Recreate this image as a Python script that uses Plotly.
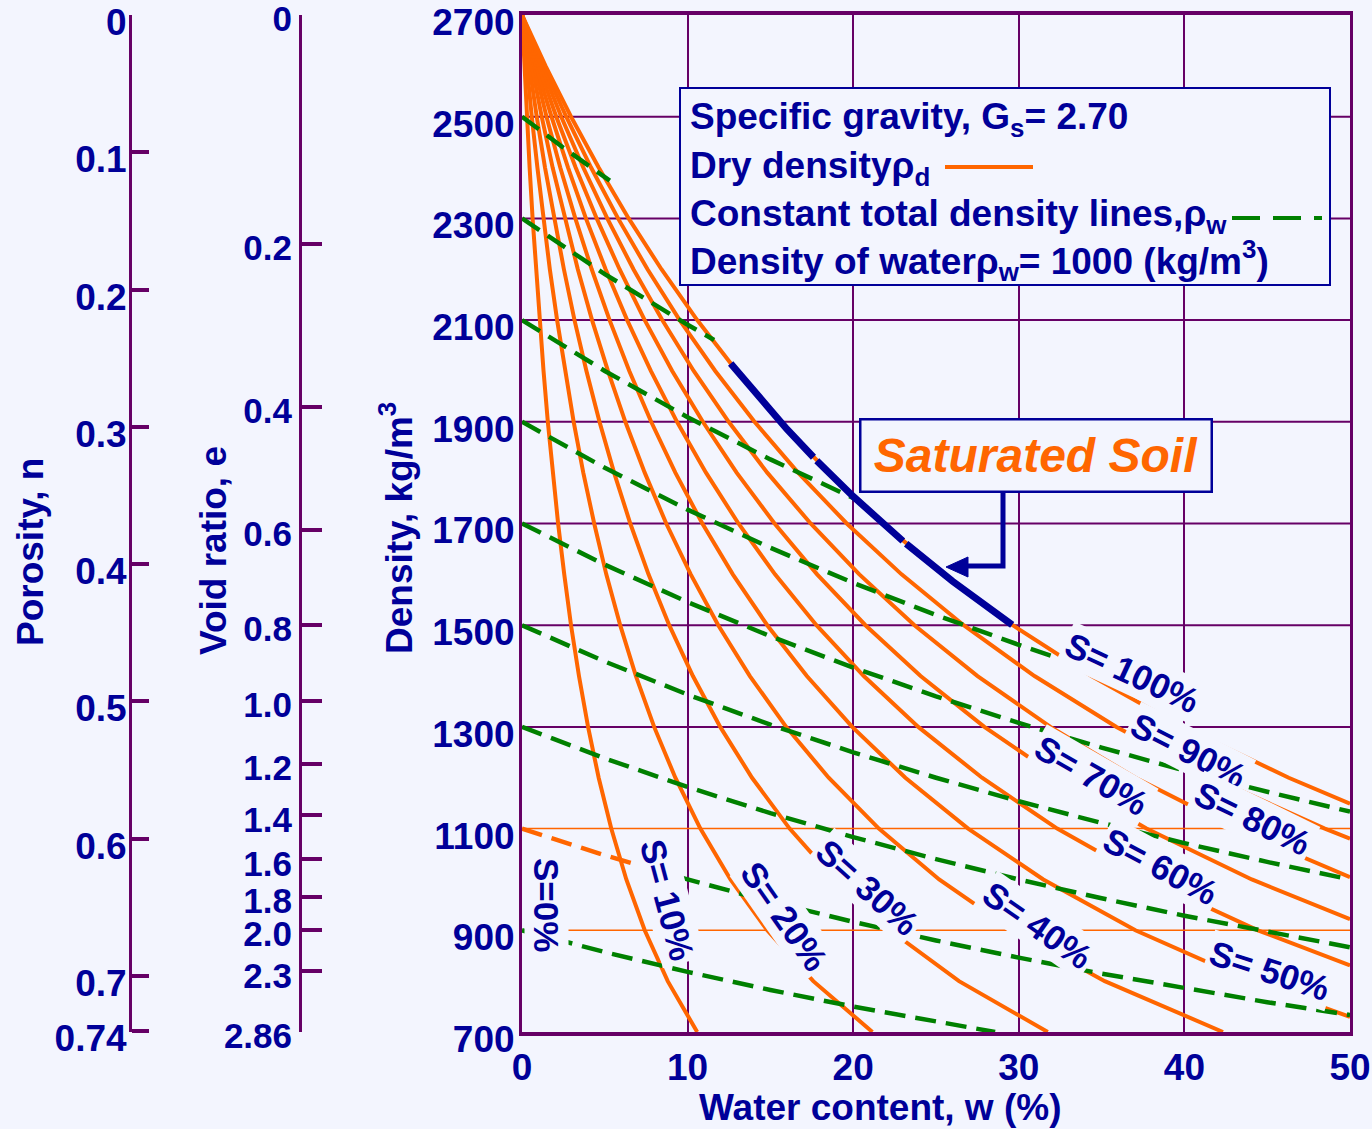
import plotly.graph_objects as go

# ---------------- DATA ----------------
x_ticks = [0, 10, 20, 30, 40, 50]
density_ticks = [700, 900, 1100, 1300, 1500, 1700, 1900, 2100, 2300, 2500, 2700]
porosity_ticks = [0, 0.1, 0.2, 0.3, 0.4, 0.5, 0.6, 0.7, 0.74]
porosity_text = ["0", "0.1", "0.2", "0.3", "0.4", "0.5", "0.6", "0.7", "0.74"]
void_ticks = [0, 0.2, 0.4, 0.6, 0.8, 1.0, 1.2, 1.4, 1.6, 1.8, 2.0, 2.3, 2.86]
void_text = ["0", "0.2", "0.4", "0.6", "0.8", "1.0", "1.2", "1.4", "1.6", "1.8", "2.0", "2.3", "2.86"]
specific_gravity = 2.70
water_density = 1000

# Dry-density curves for degree of saturation S: water content (%) vs dry density (kg/m3)
w_s10 = [0, 0.14, 0.30, 0.46, 0.64, 0.84, 1.06, 1.30, 1.56, 1.85, 2.18, 2.55, 2.96, 3.44, 3.99, 4.63, 5.39, 6.30, 7.41, 8.80, 10.58]
rho_s10 = [2700, 2600, 2500, 2400, 2300, 2200, 2100, 2000, 1900, 1800, 1700, 1600, 1500, 1400, 1300, 1200, 1100, 1000, 900, 800, 700]
w_s20 = [0, 0.28, 0.59, 0.93, 1.29, 1.68, 2.12, 2.59, 3.12, 3.70, 4.36, 5.09, 5.93, 6.88, 7.98, 9.26, 10.77, 12.59, 14.81, 17.59, 21.16]
rho_s20 = [2700, 2600, 2500, 2400, 2300, 2200, 2100, 2000, 1900, 1800, 1700, 1600, 1500, 1400, 1300, 1200, 1100, 1000, 900, 800, 700]
w_s30 = [0, 0.43, 0.89, 1.39, 1.93, 2.53, 3.17, 3.89, 4.68, 5.56, 6.54, 7.64, 8.89, 10.32, 11.97, 13.89, 16.16, 18.89, 22.22, 26.39, 31.75]
rho_s30 = [2700, 2600, 2500, 2400, 2300, 2200, 2100, 2000, 1900, 1800, 1700, 1600, 1500, 1400, 1300, 1200, 1100, 1000, 900, 800, 700]
w_s40 = [0, 0.57, 1.19, 1.85, 2.58, 3.37, 4.23, 5.19, 6.24, 7.41, 8.71, 10.19, 11.85, 13.76, 15.95, 18.52, 21.55, 25.19, 29.63, 35.19, 42.33]
rho_s40 = [2700, 2600, 2500, 2400, 2300, 2200, 2100, 2000, 1900, 1800, 1700, 1600, 1500, 1400, 1300, 1200, 1100, 1000, 900, 800, 700]
w_s50 = [0, 0.71, 1.48, 2.31, 3.22, 4.21, 5.29, 6.48, 7.80, 9.26, 10.89, 12.73, 14.81, 17.20, 19.94, 23.15, 26.94, 31.48, 37.04, 43.98, 50]
rho_s50 = [2700, 2600, 2500, 2400, 2300, 2200, 2100, 2000, 1900, 1800, 1700, 1600, 1500, 1400, 1300, 1200, 1100, 1000, 900, 800, 729.7]
w_s60 = [0, 0.85, 1.78, 2.78, 3.86, 5.05, 6.35, 7.78, 9.36, 11.11, 13.07, 15.28, 17.78, 20.64, 23.93, 27.78, 32.32, 37.78, 44.44, 50]
rho_s60 = [2700, 2600, 2500, 2400, 2300, 2200, 2100, 2000, 1900, 1800, 1700, 1600, 1500, 1400, 1300, 1200, 1100, 1000, 900, 830.8]
w_s70 = [0, 1.00, 2.07, 3.24, 4.51, 5.89, 7.41, 9.07, 10.92, 12.96, 15.25, 17.82, 20.74, 24.07, 27.92, 32.41, 37.71, 44.07, 50]
rho_s70 = [2700, 2600, 2500, 2400, 2300, 2200, 2100, 2000, 1900, 1800, 1700, 1600, 1500, 1400, 1300, 1200, 1100, 1000, 921.9]
w_s80 = [0, 1.14, 2.37, 3.70, 5.15, 6.73, 8.47, 10.37, 12.48, 14.81, 17.43, 20.37, 23.70, 27.51, 31.91, 37.04, 43.10, 50]
rho_s80 = [2700, 2600, 2500, 2400, 2300, 2200, 2100, 2000, 1900, 1800, 1700, 1600, 1500, 1400, 1300, 1200, 1100, 1004.7]
w_s90 = [0, 1.28, 2.67, 4.17, 5.80, 7.58, 9.52, 11.67, 14.04, 16.67, 19.61, 22.92, 26.67, 30.95, 35.90, 41.67, 48.48, 50]
rho_s90 = [2700, 2600, 2500, 2400, 2300, 2200, 2100, 2000, 1900, 1800, 1700, 1600, 1500, 1400, 1300, 1200, 1100, 1080.0]
w_s100 = [0, 1.42, 2.96, 4.63, 6.44, 8.42, 10.58, 12.96, 15.60, 18.52, 21.79, 25.46, 29.63, 34.39, 39.89, 46.30, 50]
rho_s100 = [2700, 2600, 2500, 2400, 2300, 2200, 2100, 2000, 1900, 1800, 1700, 1600, 1500, 1400, 1300, 1200, 1148.9]

# Constant total density lines: water content (%) vs dry density (kg/m3)
w_t2500 = [0, 2.5, 5.3]
rho_t2500 = [2500, 2439.0, 2374.2]
w_t2300 = [0, 5, 10, 11.6]
rho_t2300 = [2300, 2190.5, 2090.9, 2060.9]
w_t2100 = [0, 5, 10, 15, 20.2]
rho_t2100 = [2100, 2000.0, 1909.1, 1826.1, 1747.1]
w_t1900 = [0, 5, 10, 15, 20, 25, 30, 32.9]
rho_t1900 = [1900, 1809.5, 1727.3, 1652.2, 1583.3, 1520.0, 1461.5, 1429.6]
w_t1700 = [0, 5, 10, 15, 20, 25, 30, 35, 40, 45, 50]
rho_t1700 = [1700, 1619.0, 1545.5, 1478.3, 1416.7, 1360.0, 1307.7, 1259.3, 1214.3, 1172.4, 1133.3]
w_t1500 = [0, 5, 10, 15, 20, 25, 30, 35, 40, 45, 50]
rho_t1500 = [1500, 1428.6, 1363.6, 1304.3, 1250.0, 1200.0, 1153.8, 1111.1, 1071.4, 1034.5, 1000.0]
w_t1300 = [0, 5, 10, 15, 20, 25, 30, 35, 40, 45, 50]
rho_t1300 = [1300, 1238.1, 1181.8, 1130.4, 1083.3, 1040.0, 1000.0, 963.0, 928.6, 896.6, 866.7]
w_t1100a = [0, 5, 9.5]
rho_t1100a = [1100, 1047.6, 1004.6]
w_t1100 = [9.5, 10, 15, 20, 25, 30, 35, 40, 45, 50]
rho_t1100 = [1004.6, 1000.0, 956.5, 916.7, 880.0, 846.2, 814.8, 785.7, 758.6, 733.3]
w_t900 = [0, 5, 10, 15, 20, 25, 28.57]
rho_t900 = [900, 857.1, 818.2, 782.6, 750.0, 720.0, 700]

# Saturated-soil highlight along S = 100 % (None = small gaps)
w_sat = [12.6, 14, 16, 17.6, None, 17.8, 20, 23.0, None, 23.2, 26, 29.6]
rho_sat = [2014.6, 1959.4, 1885.5, 1830.3, None, 1823.6, 1753.2, 1665.6, None, 1660.1, 1586.4, 1500.7]

grid_purple_levels = [2500, 2300, 2100, 1900, 1700, 1500, 1300]
grid_orange_levels = [1100, 900]

curve_labels = ["S= 100%", "S= 90%", "S= 80%", "S= 70%", "S= 60%", "S= 50%",
                "S= 40%", "S= 30%", "S= 20%", "S= 10%", "S=0%"]

# ---------------- STYLE ----------------
NAVY = "#000099"
PURPLE = "#660066"
ORANGE = "#ff6600"
GREEN = "#008000"
BG = "#f3f5fe"
FONT = "Liberation Sans"
FS = 37

W, H = 1372, 1129
ML, MR, MT, MB = 0, 22, 15, 97
PW = W - ML - MR
PH = H - MT - MB


def fx(xp):
    return (xp - ML) / PW


def fy(yp):
    return (H - MB - yp) / PH


fig = go.Figure()

# dry density curves
for w, r in [(w_s10, rho_s10), (w_s20, rho_s20), (w_s30, rho_s30), (w_s40, rho_s40),
             (w_s50, rho_s50), (w_s60, rho_s60), (w_s70, rho_s70), (w_s80, rho_s80),
             (w_s90, rho_s90), (w_s100, rho_s100)]:
    fig.add_trace(go.Scatter(x=w, y=r, mode="lines", line=dict(color=ORANGE, width=4),
                             hoverinfo="skip", showlegend=False))

# constant total density lines
DASH = "21px,10px"
for w, r in [(w_t2500, rho_t2500), (w_t2300, rho_t2300), (w_t2100, rho_t2100),
             (w_t1900, rho_t1900), (w_t1700, rho_t1700), (w_t1500, rho_t1500),
             (w_t1300, rho_t1300), (w_t1100, rho_t1100), (w_t900, rho_t900)]:
    fig.add_trace(go.Scatter(x=w, y=r, mode="lines", line=dict(color=GREEN, width=4.5, dash=DASH),
                             hoverinfo="skip", showlegend=False))
fig.add_trace(go.Scatter(x=w_t1100a, y=rho_t1100a, mode="lines",
                         line=dict(color=ORANGE, width=4.5, dash=DASH),
                         hoverinfo="skip", showlegend=False))

# saturated soil line
fig.add_trace(go.Scatter(x=w_sat, y=rho_sat, mode="lines", connectgaps=False,
                         line=dict(color=NAVY, width=7), hoverinfo="skip", showlegend=False))

# empty traces so the extra left axes exist
fig.add_trace(go.Scatter(x=[], y=[], yaxis="y2", showlegend=False, hoverinfo="skip"))
fig.add_trace(go.Scatter(x=[], y=[], yaxis="y3", showlegend=False, hoverinfo="skip"))

# tick positions on the density scale
por_vals = [specific_gravity * water_density * (1 - n) for n in porosity_ticks]
void_vals = [specific_gravity * water_density / (1 + e) for e in void_ticks]

tickfont = dict(family=FONT, size=FS, color=NAVY, weight="bold")
voidfont = dict(family=FONT, size=35, color=NAVY, weight="bold")

shapes = []
for lv in grid_purple_levels:
    shapes.append(dict(type="line", xref="x", yref="y", x0=0, x1=50, y0=lv, y1=lv,
                       line=dict(color=PURPLE, width=2), layer="between"))
for lv in grid_orange_levels:
    shapes.append(dict(type="line", xref="x", yref="y", x0=0, x1=50, y0=lv, y1=lv,
                       line=dict(color=ORANGE, width=1.5), layer="between"))

# legend box + samples
shapes.append(dict(type="rect", xref="paper", yref="paper", x0=fx(680), x1=fx(1330),
                   y0=fy(285), y1=fy(88), fillcolor=BG, line=dict(color=NAVY, width=2), layer="above"))
shapes.append(dict(type="line", xref="paper", yref="paper", x0=fx(945), x1=fx(1033),
                   y0=fy(167), y1=fy(167), line=dict(color=ORANGE, width=4), layer="above"))
shapes.append(dict(type="line", xref="paper", yref="paper", x0=fx(1232), x1=fx(1322),
                   y0=fy(218), y1=fy(218), line=dict(color=GREEN, width=4, dash="28px,13px"), layer="above"))

# arrow from the "Saturated Soil" box
shapes.append(dict(type="path", xref="paper", yref="paper",
                   path=f"M {fx(1003)} {fy(493)} L {fx(1003)} {fy(566)} L {fx(962)} {fy(566)}",
                   line=dict(color=NAVY, width=5), layer="above"))
shapes.append(dict(type="path", xref="paper", yref="paper",
                   path=f"M {fx(946)} {fy(567)} L {fx(968)} {fy(557)} L {fx(968)} {fy(577)} Z",
                   fillcolor=NAVY, line=dict(color=NAVY, width=1), layer="above"))

annotations = []
# axis titles
for txt, xp, yp, ang in [("Porosity, n", 30, 552, -90), ("Void ratio, e", 213, 550, -90),
                         ("Density, kg/m<sup>3</sup>", 396, 528, -90),
                         ("Water content, w (%)", 880, 1107, 0)]:
    annotations.append(dict(x=fx(xp), y=fy(yp), xref="paper", yref="paper", text=txt,
                            xanchor="center", yanchor="middle",
                            textangle=ang, showarrow=False, font=tickfont))

# curve labels
label_pos = [(1132, 672, 25), (1189, 750, 27), (1253, 818, 26), (1092, 775, 30),
             (1161, 866, 28), (1270, 970, 18), (1038, 925, 35), (868, 887, 42),
             (785, 916, 55), (668, 900, 75), (547, 905, 90)]
for txt, (xp, yp, ang) in zip(curve_labels, label_pos):
    annotations.append(dict(x=fx(xp), y=fy(yp), xref="paper", yref="paper", text=txt,
                            xanchor="center", yanchor="middle",
                            textangle=ang, showarrow=False,
                            font=dict(family=FONT, size=35, color=NAVY, weight="bold"),
                            bgcolor=BG, borderpad=2))

# legend text
legend_lines = ["Specific gravity, G<sub>s</sub>= 2.70",
                "Dry densityρ<sub>d</sub>",
                "Constant total density lines,ρ<sub>w</sub>",
                "Density of waterρ<sub>w</sub>= 1000 (kg/m<sup>3</sup>)"]
for txt, yp in zip(legend_lines, [119, 168, 216, 260]):
    annotations.append(dict(x=fx(688), y=fy(yp), xref="paper", yref="paper", text=txt,
                            xanchor="left", yanchor="middle", showarrow=False, font=tickfont))

# Saturated Soil box
annotations.append(dict(x=fx(1036), y=fy(455), xref="paper", yref="paper",
                        xanchor="center", yanchor="middle",
                        text="<i>Saturated Soil</i>", showarrow=False,
                        font=dict(family=FONT, size=48, color=ORANGE, weight="bold"),
                        bgcolor=BG, bordercolor=NAVY, borderwidth=2.5, borderpad=1,
                        width=347, height=68))

fig.update_layout(
    template="none",
    width=W, height=H,
    margin=dict(l=ML, r=MR, t=MT, b=MB, pad=0, autoexpand=False),
    paper_bgcolor=BG, plot_bgcolor=BG, showlegend=False,
    font=tickfont,
    xaxis=dict(domain=[fx(522), 1], range=[0, 50], tickvals=x_ticks,
               ticktext=[str(v) for v in x_ticks], showgrid=True, gridcolor=PURPLE,
               gridwidth=2, showline=True, linecolor=PURPLE, linewidth=4, mirror=True,
               ticks="", zeroline=False, tickfont=tickfont, fixedrange=True, automargin=False),
    yaxis=dict(range=[700, 2700], tickvals=density_ticks,
               ticktext=[str(v) for v in density_ticks], showgrid=False, showline=True,
               linecolor=PURPLE, linewidth=3, mirror=True, ticks="", zeroline=False,
               tickfont=tickfont, ticklabelshift=7, ticklabelstandoff=-3, fixedrange=True,
               automargin=False, ticklabeloverflow="allow"),
    yaxis2=dict(overlaying="y", anchor="free", position=fx(130), side="left",
                range=[700, 2700], tickvals=por_vals, ticktext=porosity_text,
                ticks="inside", ticklen=17, tickwidth=4, tickcolor=PURPLE,
                showline=True, linecolor=PURPLE, linewidth=3, showgrid=False,
                zeroline=False, tickfont=tickfont, ticklabelshift=7, ticklabelstandoff=-5,
                fixedrange=True, automargin=False, ticklabeloverflow="allow"),
    yaxis3=dict(overlaying="y", anchor="free", position=fx(300), side="left",
                range=[699, 2700], tickvals=void_vals, ticktext=void_text,
                ticks="inside", ticklen=20, tickwidth=4, tickcolor=PURPLE,
                showline=True, linecolor=PURPLE, linewidth=3, showgrid=False,
                zeroline=False, tickfont=voidfont, ticklabelshift=4, fixedrange=True,
                automargin=False, ticklabeloverflow="allow"),
    shapes=shapes,
    annotations=annotations,
)

fig.write_html("out.html")
